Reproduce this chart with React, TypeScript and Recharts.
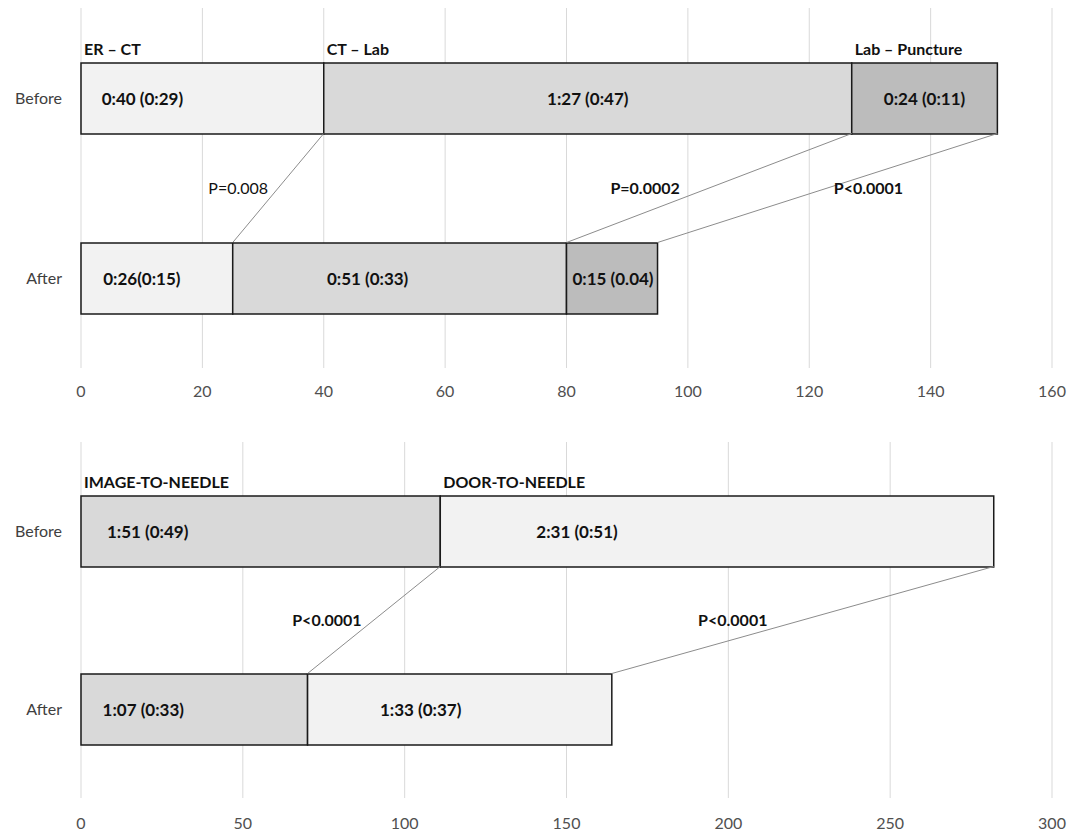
import React from 'react';
import {
  BarChart,
  Bar,
  XAxis,
  YAxis,
  CartesianGrid,
  LabelList,
  ReferenceLine,
} from 'recharts';

const categories = ['Before', 'After'];

// upper panel: minutes spent in each step (bar lengths)
const topSteps = ['ER – CT', 'CT – Lab', 'Lab – Puncture'];
const erToCt = [40, 25];
const ctToLab = [87, 55];
const labToPuncture = [24, 15];
const erToCtText = ['0:40 (0:29)', '0:26(0:15)'];
const ctToLabText = ['1:27 (0:47)', '0:51 (0:33)'];
const labToPunctureText = ['0:24 (0:11)', '0:15 (0.04)'];
const topPValues = ['P=0.008', 'P=0.0002', 'P<0.0001'];
const topTicks = [0, 20, 40, 60, 80, 100, 120, 140, 160];

// lower panel
const bottomSteps = ['IMAGE-TO-NEEDLE', 'DOOR-TO-NEEDLE'];
const imageToNeedle = [111, 70];
const doorToNeedle = [171, 94];
const imageToNeedleText = ['1:51 (0:49)', '1:07 (0:33)'];
const doorToNeedleText = ['2:31 (0:51)', '1:33 (0:37)'];
const bottomPValues = ['P<0.0001', 'P<0.0001'];
const bottomTicks = [0, 50, 100, 150, 200, 250, 300];

const BAR = 71;
const FONT = 'Lato, "Open Sans", sans-serif';

type PanelProps = {
  steps: string[];
  values: number[][];
  texts: string[][];
  fills: string[];
  textDx: number[][];
  pValues: string[];
  pDx: number[];
  pWeight: number[];
  ticks: number[];
  height: number;
  top: number;
  bottom: number;
  tickGap: number;
};

function Panel(props: PanelProps) {
  const { steps, values, texts, fills, textDx, pValues, pDx, pWeight, ticks } = props;

  const rows = categories.map((name, i) => {
    const row: Record<string, any> = { name };
    values.forEach((v, k) => {
      row['s' + k] = v[i];
    });
    return row;
  });

  const segmentText = (k: number) => (p: any) => {
    const vb = p.viewBox ?? p;
    const x = Number(vb.x) + Number(vb.width) / 2 + textDx[k][p.index];
    const y = Number(vb.y) + Number(vb.height) / 2;
    return (
      <text x={x} y={y} dy="0.36em" textAnchor="middle" fontSize={17} fontWeight={700} fill="#111">
        {texts[k][p.index]}
      </text>
    );
  };

  const headerText = (k: number) => (p: any) => {
    if (p.index !== 0) return null;
    const vb = p.viewBox ?? p;
    return (
      <text x={Number(vb.x) + 3} y={Number(vb.y) - 8} fontSize={16} fontWeight={700} fill="#111">
        {steps[k]}
      </text>
    );
  };

  let cumBefore = 0;
  let cumAfter = 0;
  const connectors = values.map((v, k) => {
    cumBefore += v[0];
    cumAfter += v[1];
    return { from: cumBefore, to: cumAfter, label: pValues[k], dx: pDx[k], weight: pWeight[k] };
  });

  return (
    <BarChart
      width={1069}
      height={props.height}
      data={rows}
      layout="vertical"
      margin={{ top: props.top, right: 17, bottom: props.bottom, left: 0 }}
    >
      <CartesianGrid horizontal={false} stroke="#d9d9d9" />
      <XAxis
        type="number"
        domain={[ticks[0], ticks[ticks.length - 1]]}
        ticks={ticks}
        axisLine={false}
        tickLine={false}
        tickMargin={props.tickGap}
        height={30}
        tick={{ fill: '#505050', fontSize: 16 }}
      />
      <YAxis
        type="category"
        dataKey="name"
        width={81}
        axisLine={false}
        tickLine={false}
        tickMargin={13}
        tick={{ fill: '#404040', fontSize: 16 }}
      />
      {steps.map((s, k) => (
        <Bar
          key={s}
          dataKey={'s' + k}
          stackId="a"
          barSize={BAR}
          fill={fills[k]}
          stroke="#1a1a1a"
          strokeWidth={1.5}
          isAnimationActive={false}
        >
          <LabelList content={segmentText(k)} />
          <LabelList content={headerText(k)} />
        </Bar>
      ))}
      {connectors.map((c, k) => (
        <ReferenceLine
          key={k}
          segment={[
            { x: c.from, y: 'Before' },
            { x: c.to, y: 'After' },
          ]}
          shape={(p: any) => {
            const y1 = p.y1 + BAR / 2;
            const y2 = p.y2 - BAR / 2;
            return (
              <g>
                <line x1={p.x1} y1={y1} x2={p.x2} y2={y2} stroke="#8c8c8c" strokeWidth={1} />
                <text
                  x={(p.x1 + p.x2) / 2 + c.dx}
                  y={(y1 + y2) / 2}
                  dy="0.36em"
                  textAnchor="middle"
                  fontSize={16}
                  fontWeight={c.weight}
                  fill="#111"
                >
                  {c.label}
                </text>
              </g>
            );
          }}
        />
      ))}
    </BarChart>
  );
}

export default function App() {
  return (
    <div style={{ position: 'absolute', left: 0, top: 0, width: 1069, height: 833, background: '#fff', fontFamily: FONT }}>
      <Panel
        steps={topSteps}
        values={[erToCt, ctToLab, labToPuncture]}
        texts={[erToCtText, ctToLabText, labToPunctureText]}
        fills={['#f2f2f2', '#d9d9d9', '#bcbcbc']}
        textDx={[[-60, -15], [0, -32], [0, 1]]}
        pValues={topPValues}
        pDx={[-40, -64, 41]}
        pWeight={[400, 700, 700]}
        ticks={topTicks}
        height={410}
        top={8}
        bottom={12}
        tickGap={12}
      />
      <Panel
        steps={bottomSteps}
        values={[imageToNeedle, doorToNeedle]}
        texts={[imageToNeedleText, doorToNeedleText]}
        fills={['#d9d9d9', '#f2f2f2']}
        textDx={[[-113, -51], [-140, -39]]}
        pValues={bottomPValues}
        pDx={[-47, -70]}
        pWeight={[700, 700]}
        ticks={bottomTicks}
        height={423}
        top={32}
        bottom={5}
        tickGap={14}
      />
    </div>
  );
}
